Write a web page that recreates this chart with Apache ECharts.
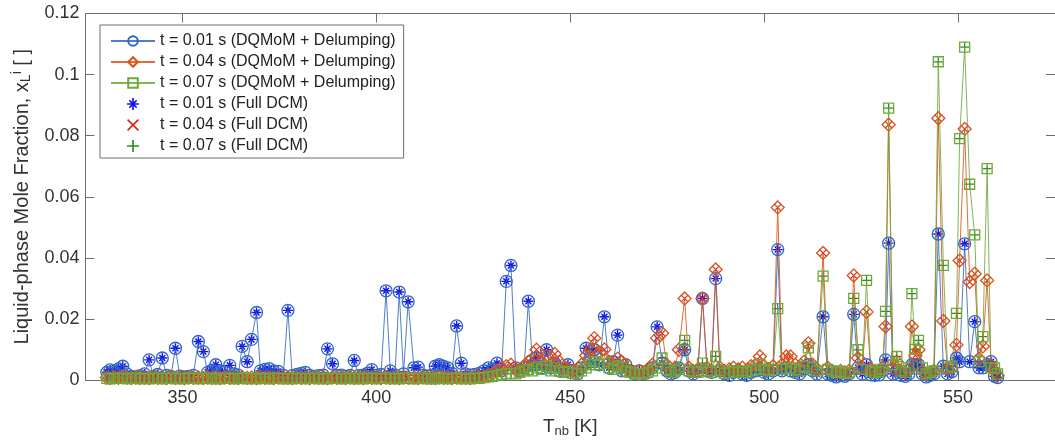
<!DOCTYPE html>
<html><head><meta charset="utf-8">
<script src="https://cdn.jsdelivr.net/npm/echarts@6/dist/echarts.min.js"></script>
<style>html,body{margin:0;padding:0;background:#fff}#c{width:1055px;height:443px}</style>
</head><body><div id="c"></div>
<script>
// Normal boiling temperature of each pseudo-component [K]
const tnb = [
330.5,331.3,332.4,333.5,334.6,335.7,336.8,337.9,339.0,340.2,
341.4,342.5,343.6,344.8,345.9,347.0,348.2,349.3,350.5,351.6,
352.8,354.1,355.4,356.5,357.6,358.6,359.7,360.9,362.2,363.3,
364.4,365.4,366.7,367.8,369.1,370.1,371.3,372.4,373.5,374.7,
376.0,377.2,378.3,379.5,380.6,381.7,382.8,384.0,385.1,386.3,
387.4,388.7,389.8,391.0,392.1,393.2,394.3,395.4,396.6,397.7,
398.8,400.0,401.2,402.5,403.6,404.8,405.9,407.0,408.2,409.7,
410.8,412.0,413.1,414.2,415.2,416.2,417.3,418.4,419.5,420.7,
421.9,423.0,424.2,425.3,426.5,427.7,428.9,430.0,431.1,432.3,
433.5,434.7,435.9,437.0,438.1,439.2,440.3,441.3,442.6,443.9,
445.0,446.0,447.2,448.3,449.4,450.6,451.8,452.9,454.1,455.2,
456.2,457.5,458.8,460.0,461.1,462.2,463.3,464.3,465.5,466.6,
467.8,468.9,470.0,471.2,472.4,473.7,474.9,476.0,477.0,478.0,
479.5,480.6,481.7,482.9,484.1,485.3,486.4,487.5,488.6,489.8,
491.0,492.1,493.3,494.4,495.5,496.6,497.8,498.9,500.0,501.1,
502.3,503.5,504.6,505.7,506.8,508.0,509.1,510.3,511.4,512.5,
513.6,515.2,516.4,517.5,518.6,519.7,520.8,521.9,523.1,524.2,
525.3,526.4,527.5,528.6,529.7,530.5,531.3,532.1,533.2,534.2,
535.3,536.4,537.3,538.1,539.0,539.8,540.8,541.8,542.8,543.8,
544.9,546.2,547.3,548.4,549.6,550.4,551.7,553.0,554.3,555.4,
556.4,557.5,558.5,559.4,560.2];

// t = 0.01 s
const x001 = [
.0025,.0033,.0028,.0036,.0045,.0020,.0012,.0010,.0014,.0020,
.0066,.0012,.0018,.0072,.0015,.0012,.0104,.0013,.0010,.0012,
.0015,.0126,.0093,.0025,.0032,.0050,.0030,.0026,.0048,.0020,
.0016,.0110,.0060,.0133,.0221,.0030,.0035,.0037,.0030,.0028,
.0015,.0228,.0014,.0018,.0022,.0025,.0015,.0012,.0014,.0016,
.0102,.0053,.0014,.0016,.0012,.0015,.0064,.0014,.0016,.0022,
.0034,.0015,.0018,.0292,.0030,.0016,.0288,.0020,.0256,.0040,
.0042,.0016,.0013,.0015,.0045,.0050,.0045,.0040,.0022,.0177,
.0055,.0020,.0016,.0018,.0022,.0030,.0040,.0035,.0055,.0030,
.0323,.0375,.0040,.0030,.0040,.0258,.0050,.0072,.0040,.0099,
.0040,.0055,.0030,.0035,.0050,.0030,.0020,.0040,.0104,.0060,
.0099,.0050,.0207,.0040,.0060,.0147,.0030,.0050,.0030,.0020,
.0030,.0020,.0025,.0040,.0174,.0055,.0030,.0020,.0025,.0040,
.0099,.0030,.0020,.0030,.0267,.0030,.0025,.0332,.0030,.0020,
.0015,.0025,.0030,.0020,.0015,.0025,.0030,.0035,.0025,.0020,
.0030,.0427,.0030,.0040,.0030,.0025,.0020,.0035,.0050,.0030,
.0020,.0207,.0020,.0015,.0010,.0015,.0012,.0020,.0215,.0040,
.0020,.0050,.0017,.0015,.0017,.0030,.0066,.0448,.0020,.0030,
.0015,.0012,.0020,.0050,.0050,.0050,.0020,.0010,.0015,.0020,
.0478,.0045,.0020,.0027,.0072,.0060,.0446,.0060,.0191,.0040,
.0040,.0050,.0060,.0012,.0008];

// t = 0.04 s
const x004 = [
.0008,.0006,.0009,.0007,.0010,.0008,.0006,.0009,.0007,.0008,
.0006,.0009,.0007,.0008,.0006,.0010,.0007,.0008,.0006,.0009,
.0007,.0008,.0006,.0009,.0007,.0008,.0006,.0009,.0007,.0008,
.0006,.0009,.0007,.0008,.0006,.0009,.0007,.0008,.0006,.0009,
.0007,.0008,.0006,.0009,.0007,.0008,.0006,.0009,.0007,.0008,
.0006,.0009,.0007,.0008,.0006,.0009,.0007,.0008,.0006,.0009,
.0007,.0008,.0006,.0009,.0007,.0008,.0006,.0009,.0007,.0008,
.0006,.0009,.0007,.0008,.0006,.0009,.0007,.0008,.0006,.0009,
.0007,.0008,.0006,.0009,.0010,.0012,.0015,.0020,.0030,.0040,
.0045,.0050,.0035,.0030,.0045,.0060,.0070,.0099,.0060,.0080,
.0050,.0085,.0060,.0040,.0035,.0030,.0025,.0050,.0080,.0100,
.0137,.0090,.0100,.0060,.0050,.0070,.0060,.0040,.0030,.0025,
.0030,.0025,.0035,.0050,.0137,.0153,.0050,.0030,.0040,.0099,
.0267,.0040,.0030,.0035,.0267,.0040,.0030,.0362,.0040,.0030,
.0035,.0040,.0035,.0040,.0030,.0045,.0050,.0077,.0045,.0035,
.0045,.0565,.0050,.0077,.0077,.0050,.0040,.0060,.0120,.0050,
.0035,.0416,.0040,.0030,.0025,.0030,.0025,.0030,.0342,.0072,
.0040,.0223,.0035,.0030,.0030,.0040,.0175,.0836,.0040,.0060,
.0030,.0025,.0035,.0175,.0080,.0099,.0030,.0020,.0025,.0030,
.0857,.0193,.0035,.0040,.0115,.0391,.0822,.0321,.0348,.0070,
.0110,.0326,.0050,.0030,.0015];

// t = 0.07 s
const x007 = [
.0005,.0004,.0006,.0005,.0006,.0004,.0005,.0006,.0004,.0005,
.0004,.0006,.0005,.0004,.0005,.0006,.0004,.0005,.0004,.0006,
.0005,.0004,.0005,.0006,.0004,.0005,.0004,.0006,.0005,.0004,
.0005,.0006,.0004,.0005,.0004,.0006,.0005,.0004,.0005,.0006,
.0004,.0005,.0004,.0006,.0005,.0004,.0005,.0006,.0004,.0005,
.0004,.0006,.0005,.0004,.0005,.0006,.0004,.0005,.0004,.0006,
.0005,.0004,.0005,.0006,.0004,.0005,.0004,.0006,.0005,.0004,
.0005,.0006,.0004,.0005,.0004,.0006,.0005,.0004,.0005,.0006,
.0004,.0005,.0004,.0006,.0005,.0008,.0010,.0012,.0015,.0018,
.0020,.0022,.0020,.0025,.0030,.0035,.0030,.0040,.0035,.0045,
.0030,.0040,.0030,.0025,.0028,.0022,.0020,.0030,.0040,.0050,
.0060,.0050,.0055,.0040,.0035,.0045,.0040,.0030,.0025,.0020,
.0022,.0020,.0025,.0030,.0040,.0072,.0035,.0025,.0030,.0035,
.0130,.0030,.0025,.0025,.0055,.0030,.0025,.0077,.0030,.0022,
.0025,.0030,.0025,.0030,.0025,.0030,.0035,.0050,.0035,.0030,
.0035,.0234,.0035,.0040,.0040,.0035,.0030,.0045,.0105,.0040,
.0030,.0340,.0035,.0030,.0025,.0028,.0022,.0025,.0267,.0099,
.0035,.0326,.0030,.0025,.0028,.0035,.0225,.0890,.0050,.0077,
.0030,.0025,.0040,.0283,.0100,.0130,.0040,.0020,.0025,.0030,
.1042,.0375,.0040,.0045,.0218,.0790,.1090,.0641,.0475,.0060,
.0142,.0692,.0040,.0040,.0020];

// Full DCM results coincide with the DQMoM + Delumping values at every component
const dcm001 = x001;
const dcm004 = x004;
const dcm007 = x007;

const seriesNames = [
  't = 0.01 s (DQMoM + Delumping)',
  't = 0.04 s (DQMoM + Delumping)',
  't = 0.07 s (DQMoM + Delumping)',
  't = 0.01 s (Full DCM)',
  't = 0.04 s (Full DCM)',
  't = 0.07 s (Full DCM)'
];
const xTicks = [350, 400, 450, 500, 550];
const yMin = 0, yMax = 0.12, yStep = 0.02;
const xMin = 325, xMax = 575;

const FONT = '"Liberation Sans", Arial, Helvetica, sans-serif';
const C = {b:'#2F67C0', r:'#D95319', g:'#6FA83A', bs:'#1414F0', rs:'#E0221C', gs:'#2E8C22'};
const AX = '#6e6e6e';
const pair = ys => tnb.map((t, i) => [t, ys[i]]);

const P_STAR = 'path://M4.3,0H5.7V10H4.3Z M0,4.3H10V5.7H0Z M1.5,2.5L2.5,1.5L8.5,7.5L7.5,8.5Z M7.5,1.5L8.5,2.5L2.5,8.5L1.5,7.5Z';
const P_X = 'path://M0,1L1,0L10,9L9,10Z M9,0L10,1L1,10L0,9Z';
const P_PLUS = 'path://M4.3,0H5.7V4.3H10V5.7H5.7V10H4.3V5.7H0V4.3H4.3Z';

function dqSeries(name, ys, color, symbol, size) {
  return {
    name, type: 'line', data: pair(ys), symbol, symbolSize: size,
    showAllSymbol: true,
    lineStyle: {color, width: 1, opacity: 0.85},
    itemStyle: {color: 'rgba(255,255,255,0)', borderColor: color, borderWidth: 1.3},
    emphasis: {disabled: true}, silent: true
  };
}
function dcmSeries(name, ys, color, symbol, size) {
  return {
    name, type: 'scatter', data: pair(ys), symbol, symbolSize: size,
    itemStyle: {color, opacity: 1},
    emphasis: {disabled: true}, silent: true
  };
}

const chart = echarts.init(document.getElementById('c'), null, {renderer: 'canvas'});
chart.setOption({
  animation: false,
  backgroundColor: '#fff',
  grid: {left: 85.5, top: 13.5, width: 977.5, height: 368.5},
  legend: {
    orient: 'vertical', left: 100, top: 25,
    padding: [8, 8, 4, 10], itemGap: 5, itemWidth: 44, itemHeight: 12,
    backgroundColor: '#fff', borderColor: AX, borderWidth: 1, borderRadius: 0,
    textStyle: {fontSize: 16, fontFamily: FONT, color: '#222', lineHeight: 16},
    data: seriesNames
  },
  xAxis: [{
    type: 'value', min: xMin, max: xMax, position: 'bottom',
    axisLine: {show: true, onZero: false, lineStyle: {color: AX}},
    splitLine: {show: false},
    axisTick: {show: true, inside: true, length: 9, customValues: xTicks, lineStyle: {color: AX}},
    axisLabel: {show: true, customValues: xTicks, fontSize: 18, color: '#333', margin: 9, fontFamily: FONT},
    name: '{a|T}{s|nb}{a| [K]}', nameLocation: 'middle', nameGap: 35,
    nameTextStyle: {rich: {
      a: {fontSize: 19, fontFamily: FONT, color: '#333'},
      s: {fontSize: 13, fontFamily: FONT, color: '#333', padding: [10, 0, 0, 0]}
    }}
  }, {
    type: 'value', min: xMin, max: xMax, position: 'top',
    axisLine: {show: true, onZero: false, lineStyle: {color: AX}},
    splitLine: {show: false},
    axisTick: {show: true, inside: true, length: 9, customValues: xTicks, lineStyle: {color: AX}},
    axisLabel: {show: false}
  }],
  yAxis: [{
    type: 'value', min: yMin, max: yMax, interval: yStep, position: 'left',
    axisLine: {show: true, onZero: false, lineStyle: {color: AX}},
    splitLine: {show: false},
    axisTick: {show: true, inside: true, length: 9, lineStyle: {color: AX}},
    axisLabel: {fontSize: 18, color: '#333', margin: 6, fontFamily: FONT},
    name: '{a|Liquid-phase Mole Fraction, x}{s|L}{p|i}{a| [ ]}',
    nameLocation: 'middle', nameRotate: 90, nameGap: 52,
    nameTextStyle: {rich: {
      a: {fontSize: 20, fontFamily: FONT, color: '#333'},
      s: {fontSize: 14, fontFamily: FONT, color: '#333', padding: [9, 0, 0, 0]},
      p: {fontSize: 14, fontFamily: FONT, color: '#333', padding: [0, 0, 9, 0]}
    }}
  }, {
    type: 'value', min: yMin, max: yMax, interval: yStep, position: 'right',
    axisLine: {show: true, onZero: false, lineStyle: {color: AX}},
    splitLine: {show: false},
    axisTick: {show: true, inside: true, length: 9, lineStyle: {color: AX}},
    axisLabel: {show: false}
  }],
  series: [
    dqSeries(seriesNames[0], x001, C.b, 'circle', 12),
    dqSeries(seriesNames[1], x004, C.r, 'diamond', 13),
    dqSeries(seriesNames[2], x007, C.g, 'rect', 10),
    dcmSeries(seriesNames[3], dcm001, C.bs, P_STAR, 10),
    dcmSeries(seriesNames[4], dcm004, C.rs, P_X, 8),
    dcmSeries(seriesNames[5], dcm007, C.gs, P_PLUS, 9)
  ]
});
</script>
</body></html>
